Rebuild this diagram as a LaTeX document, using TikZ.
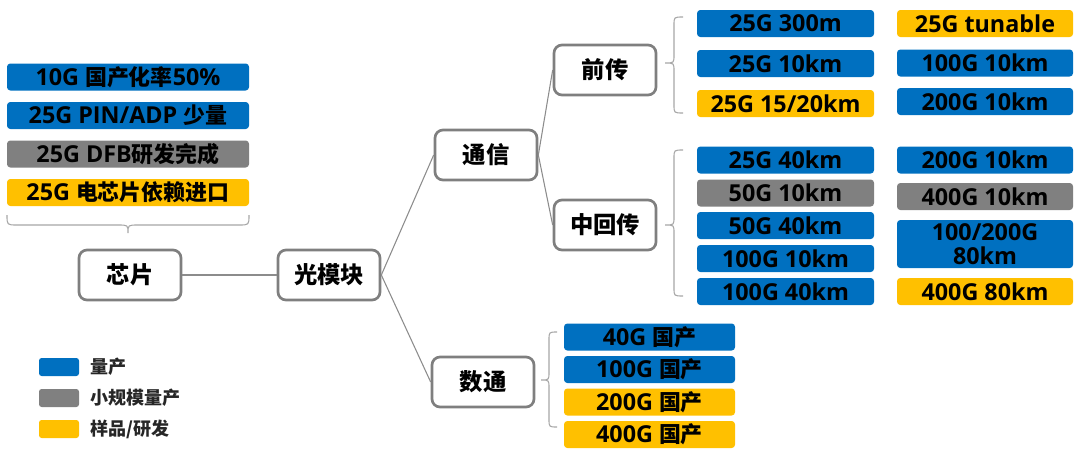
\documentclass[tikz,border=0pt]{standalone}
\usepackage{fontspec}
\setmainfont{Open Sans}
\newfontfamily\cjk{Noto Sans CJK SC}
\newfontfamily\cjktag{Noto Sans CJK SC}[Scale=0.94]
\definecolor{cblue}{HTML}{0070C0}
\definecolor{cgray}{HTML}{808080}
\definecolor{cgold}{HTML}{FFC000}
\definecolor{cborder}{HTML}{7F7F7F}
\definecolor{cline}{HTML}{8C8C8C}
\definecolor{cbrace}{HTML}{A6A6A6}
\newcommand\zh[1]{{\cjktag #1}}
\begin{document}
\begin{tikzpicture}[x=0.75pt,y=-0.75pt,
  tag/.style={rounded corners=2.5pt, minimum height=20.25pt, inner sep=0pt, text=black,
    font=\fontsize{17.5}{18.5}\selectfont\bfseries},
  qty/.style={tag, fill=cblue},
  small/.style={tag, fill=cgray},
  sample/.style={tag, fill=cgold},
  mind/.style={draw=cborder, line width=2pt, rounded corners=6pt, fill=white,
    minimum width=76.5pt, minimum height=37.5pt, inner sep=0pt, text=black,
    font=\fontsize{17.5}{19}\selectfont\bfseries\cjk},
  link/.style={draw=cline, line width=0.8pt},
  bracepath/.style={draw=cbrace, line width=0.8pt},
  swatch/.style={fill=#1, rounded corners=2pt, minimum width=30pt, minimum height=13.5pt, inner sep=0pt},
  legtext/.style={anchor=west, inner sep=0pt, text=black!85, font=\fontsize{13.5}{15}\selectfont\bfseries\cjk}
]
\useasboundingbox (0,0) rectangle (1080,457);

% chip column
\node[qty, minimum width=181.5pt] (c1) at (128,77) {10G \zh{国产化率}50\%};
\node[qty, minimum width=181.5pt] (c2) at (128,115.5) {25G PIN/ADP \zh{少量}};
\node[small, minimum width=181.5pt] (c3) at (128,154) {25G DFB\zh{研发完成}};
\node[sample, minimum width=181.5pt] (c4) at (128,192.5) {25G \zh{电芯片依赖进口}};
\draw[bracepath] (7,215) .. controls (7,225) .. (17,225) -- (118,225) .. controls (128,225) .. (128,233)
  .. controls (128,225) .. (138,225) -- (239,225) .. controls (249,225) .. (249,215);

% mind nodes
\node[mind] (chip) at (130,275) {芯片};
\node[mind] (mod) at (329,275) {光模块};
\node[mind] (tel) at (486,155) {通信};
\node[mind] (front) at (605,70) {前传};
\node[mind] (mid) at (605,225) {中回传};
\node[mind] (dc) at (483,382) {数通};

\draw[link] (chip.east) -- (mod.west);
\draw[link] (mod.east) -- (tel.west);
\draw[link] (mod.east) -- (dc.west);
\draw[link] (tel.east) -- (front.west);
\draw[link] (tel.east) -- (mid.west);

% front-haul braces and tags
\draw[bracepath] (683,17) .. controls (674,17) .. (674,25) -- (674,55) .. controls (674,63) .. (665,63)
  .. controls (674,63) .. (674,71) -- (674,105) .. controls (674,113) .. (683,113);
\node[qty, minimum width=132.75pt] (f1) at (785.5,23.5) {25G 300m};
\node[qty, minimum width=132.75pt] (f2) at (785.5,63.5) {25G 10km};
\node[sample, minimum width=132.75pt] (f3) at (785.5,103.5) {25G 15/20km};
\node[sample, minimum width=132pt] (f4) at (985,23.5) {25G tunable};
\node[qty, minimum width=132pt] (f5) at (985,63) {100G 10km};
\node[qty, minimum width=132pt] (f6) at (985,101.5) {200G 10km};

% mid/back-haul
\draw[bracepath] (683,150) .. controls (674,150) .. (674,158) -- (674,217) .. controls (674,225) .. (665,225)
  .. controls (674,225) .. (674,233) -- (674,288) .. controls (674,296) .. (683,296);
\node[qty, minimum width=132.75pt] (m1) at (785.5,160) {25G 40km};
\node[small, minimum width=132.75pt] (m2) at (785.5,193) {50G 10km};
\node[qty, minimum width=132.75pt] (m3) at (785.5,225.5) {50G 40km};
\node[qty, minimum width=132.75pt] (m4) at (785.5,258.5) {100G 10km};
\node[qty, minimum width=132.75pt] (m5) at (785.5,291.5) {100G 40km};
\node[qty, minimum width=132pt] (m6) at (985,160) {200G 10km};
\node[small, minimum width=132pt] (m7) at (985,196.5) {400G 10km};
\node[qty, minimum width=132pt, minimum height=36pt, align=center,
  font=\fontsize{17.5}{18.5}\selectfont\bfseries] (m8) at (985,244) {100/200G\\80km};
\node[sample, minimum width=132pt] (m9) at (985,291.5) {400G 80km};

% datacom
\draw[bracepath] (557,332) .. controls (549,332) .. (549,340) -- (549,372) .. controls (549,380) .. (541,380)
  .. controls (549,380) .. (549,388) -- (549,419) .. controls (549,427) .. (557,427);
\node[qty, minimum width=128.25pt] (d1) at (649.5,337) {40G \zh{国产}};
\node[qty, minimum width=128.25pt] (d2) at (649.5,369.5) {100G \zh{国产}};
\node[sample, minimum width=128.25pt] (d3) at (649.5,402) {200G \zh{国产}};
\node[sample, minimum width=128.25pt] (d4) at (649.5,434.5) {400G \zh{国产}};

% legend
\node[swatch=cblue] (s1) at (59,367) {};
\node[swatch=cgray] (s2) at (59,398) {};
\node[swatch=cgold] (s3) at (59,429) {};
\node[legtext] (l1) at (90,367) {量产};
\node[legtext] (l2) at (90,398) {小规模量产};
\node[legtext] (l3) at (90,429) {样品/研发};
\end{tikzpicture}
\end{document}
